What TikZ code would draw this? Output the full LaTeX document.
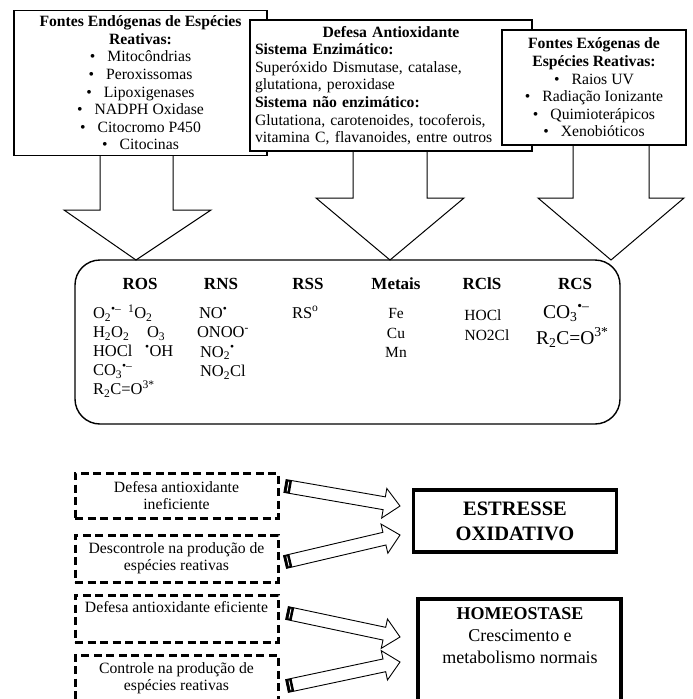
\documentclass[tikz,border=0pt]{standalone}
\usepackage{fontspec}
\setmainfont{Liberation Serif}
\usetikzlibrary{calc}
\newcommand\hollowarr[2]{%
  \coordinate (hA) at (#1);
  \coordinate (hB) at (#2);
  \coordinate (hN) at ($(hB)!16pt!(hA)$);
  \coordinate (hC) at ($(hA)!6pt!(hB)$);
  \draw[hollow] ($(hA)!6.5pt!90:(hB)$) -- ($(hN)!6.5pt!-90:(hA)$) -- ($(hN)!15pt!-90:(hA)$) -- (hB)
     -- ($(hN)!15pt!90:(hA)$) -- ($(hN)!6.5pt!90:(hA)$) -- ($(hA)!6.5pt!-90:(hB)$) -- cycle;
  \fill ($(hA)!6.5pt!90:(hB)$) -- ($(hA)!6.5pt!-90:(hB)$) -- ($(hC)!6.5pt!-90:(hB)$) -- ($(hC)!6.5pt!90:(hB)$) -- cycle;
  \draw[white,line width=0.8pt] ($($(hA)!3pt!(hB)$)!5pt!90:(hB)$) -- ($($(hA)!3pt!(hB)$)!5pt!-90:(hB)$);
}
\begin{document}
\begin{tikzpicture}[x=1pt,y=-1pt,
  every node/.style={inner sep=0pt,outer sep=0pt},
  topbox/.style={draw,line width=1.2pt,fill=white,align=center,font=\fontsize{15.7}{17.6}\selectfont},
  bigarrow/.style={draw,line width=1pt,fill=white},
  rbox/.style={draw,line width=1.4pt,rounded corners=25pt},
  hdr/.style={font=\bfseries\fontsize{17}{20}\selectfont,anchor=base},
  chem/.style={font=\fontsize{16.5}{19}\selectfont,anchor=base west},
  chemc/.style={font=\fontsize{15.5}{19}\selectfont,anchor=base},
  chemb/.style={font=\fontsize{19.5}{22}\selectfont,anchor=base west},
  dbox/.style={draw,line width=3pt,dash pattern=on 8pt off 4.5pt,minimum width=203pt},
  dtext/.style={align=center,font=\fontsize{15.7}{17.2}\selectfont},
  hollow/.style={draw,line width=0.9pt,fill=white},
  resbox/.style={draw,line width=3.8pt,minimum width=203pt}
]
\clip (0,0) rectangle (693,699);
\fill[white] (0,0) rectangle (693,699);

% top boxes
\node[topbox,minimum width=253pt,minimum height=145pt] (endo) at (140.5,83)
 {\textbf{Fontes Endógenas de Espécies}\\ \textbf{Reativas:}\\
  \textbullet\hspace{12pt}Mitocôndrias\\ \textbullet\hspace{12pt}Peroxissomas\\
  \textbullet\hspace{12pt}Lipoxigenases\\ \textbullet\hspace{12pt}NADPH Oxidase\\
  \textbullet\hspace{12pt}Citocromo P450\\ \textbullet\hspace{12pt}Citocinas};
\node[topbox,minimum width=282pt,minimum height=131pt,text width=272pt,align=left] (def) at (391,85.5)
 {\makebox[272pt][c]{\textbf{Defesa Antioxidante}}\\ \textbf{Sistema Enzimático:}\\
  Superóxido Dismutase, catalase,\\ glutationa, peroxidase\\
  \textbf{Sistema não enzimático:}\\ Glutationa, carotenoides, tocoferois,\\
  vitamina C, flavanoides, entre outros};
\node[topbox,minimum width=184pt,minimum height=115pt] (exo) at (594,87.5)
 {\textbf{Fontes Exógenas de}\\ \textbf{Espécies Reativas:}\\
  \textbullet\hspace{12pt}Raios UV\\ \textbullet\hspace{12pt}Radiação Ionizante\\
  \textbullet\hspace{12pt}Quimioterápicos\\ \textbullet\hspace{12pt}Xenobióticos};

% big arrows
\draw[bigarrow] (100,156) -- (100,210) -- (64,210) -- (136,260) -- (211,210) -- (173,210) -- (173,156);
\draw[bigarrow] (353,152) -- (353,198) -- (316,198) -- (390,260) -- (464,198) -- (427,198) -- (427,152);
\draw[bigarrow] (573,146) -- (573,198) -- (538,198) -- (611,260) -- (684,198) -- (649,198) -- (649,146);

% species box
\node[rbox,minimum width=545pt,minimum height=164pt] (species) at (347.5,342) {};
\node[hdr] (hros) at (140,289) {ROS};
\node[hdr] (hrns) at (221,289) {RNS};
\node[hdr] (hrss) at (308,289) {RSS};
\node[hdr] (hmet) at (396,289) {Metais};
\node[hdr] (hrcls) at (482,289) {RClS};
\node[hdr] (hrcs) at (575,289) {RCS};

\node[chem] (r1) at (93,318.5) {O\textsubscript{2}\textsuperscript{•–}};
\node[chem] (r1b) at (128,318.5) {\textsuperscript{1}O\textsubscript{2}};
\node[chem] (r2) at (93,337.5) {H\textsubscript{2}O\textsubscript{2}};
\node[chem] (r2b) at (147,337.5) {O\textsubscript{3}};
\node[chem] (r3) at (93,356.5) {HOCl};
\node[chem] (r3b) at (145,356.5) {\textsuperscript{•}OH};
\node[chem] (r4) at (93,375.5) {CO\textsubscript{3}\textsuperscript{•–}};
\node[chem] (r5) at (93,394.5) {R\textsubscript{2}C=O\textsuperscript{3*}};

\node[chem] (n1) at (199,318.5) {NO\textsuperscript{•}};
\node[chem] (n2) at (197,337.5) {ONOO\textsuperscript{-}};
\node[chem] (n3) at (200,357) {NO\textsubscript{2}\textsuperscript{•}};
\node[chem] (n4) at (200,376.5) {NO\textsubscript{2}Cl};

\node[chem] (s1) at (292,318) {RS\textsuperscript{o}};

\node[chemc] (m1) at (396,318.5) {Fe};
\node[chemc] (m2) at (396,338) {Cu};
\node[chemc] (m3) at (396,357.5) {Mn};

\node[chemc] (c1) at (483,320) {HOCl};
\node[chemc] (c2) at (487,340) {NO2Cl};

\node[chemb] (k1) at (543,318) {CO\textsubscript{3}\textsuperscript{•–}};
\node[chemb] (k2) at (536,344) {R\textsubscript{2}C=O\textsuperscript{3*}};

% dashed boxes
\node[dbox,minimum height=45pt] (d1) at (176.5,495.5) {};
\node[dtext] (d1t) at (d1.center) {Defesa antioxidante\\ ineficiente};
\node[dbox,minimum height=47pt] (d2) at (176.5,558.5) {};
\node[dtext] (d2t) at (d2.center) {Descontrole na produção de\\ espécies reativas};
\node[dbox,minimum height=47pt] (d3) at (176.5,618.5) {};
\node[dtext] (d3t) at (176.5,607) {Defesa antioxidante eficiente};
\node[dbox,minimum height=58pt] (d4) at (176.5,684) {};
\node[dtext] (d4t) at (176.5,678.5) {Controle na produção de\\ espécies reativas};

% result boxes
\node[resbox,minimum height=62pt,align=center,font=\bfseries\fontsize{20.5}{25}\selectfont] (est) at (515,521)
 {ESTRESSE\\ OXIDATIVO};
\node[resbox,line width=3.2pt,minimum height=116pt] (hom) at (519.5,657) {};
\node[align=center,font=\fontsize{18}{22}\selectfont] (homt) at (520,636)
 {\textbf{HOMEOSTASE}\\ Crescimento e\\ metabolismo normais};

% hollow arrows
\coordinate (t1) at (285,486); \coordinate (p1) at (400,506);
\coordinate (t2) at (285,562); \coordinate (p2) at (400,535);
\coordinate (t3) at (287,613); \coordinate (p3) at (400,637);
\coordinate (t4) at (287,686); \coordinate (p4) at (400,662);
\hollowarr{t1}{p1}
\hollowarr{t2}{p2}
\hollowarr{t3}{p3}
\hollowarr{t4}{p4}
\end{tikzpicture}
\end{document}
